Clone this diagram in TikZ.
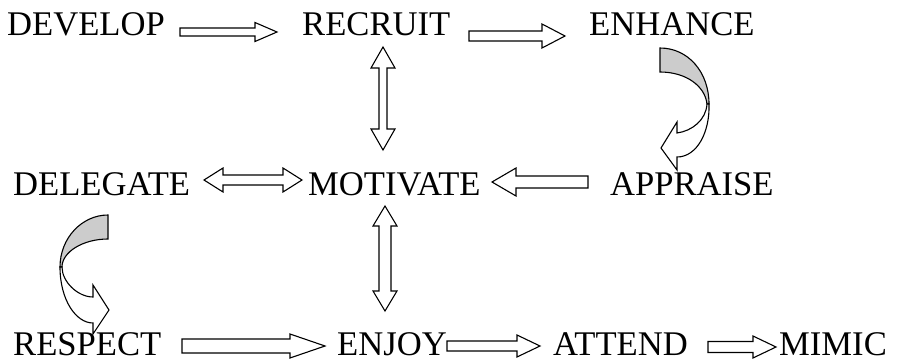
\documentclass[tikz,border=0pt]{standalone}
\usepackage{fontspec}
\setmainfont{Liberation Serif}
\tikzset{
  lbl/.style={anchor=base west, inner sep=0pt, font=\fontsize{34.6}{40}\selectfont},
  blk/.style={draw=black, fill=white, line width=1.1pt, line join=miter},
  backband/.style={draw=black, fill=gray!40, line width=1.1pt},
}
% right-pointing block arrow: x1 x2(tip) yc shafthalf headhalf headlen
\newcommand\barR[6]{\draw[blk] (#1,{#3-#4}) -- ({#2-#6},{#3-#4}) -- ({#2-#6},{#3-#5}) -- (#2,#3) -- ({#2-#6},{#3+#5}) -- ({#2-#6},{#3+#4}) -- (#1,{#3+#4}) -- cycle;}
% left-pointing block arrow: x1(tip) x2 yc shafthalf headhalf headlen
\newcommand\barL[6]{\draw[blk] (#1,#3) -- ({#1+#6},{#3-#5}) -- ({#1+#6},{#3-#4}) -- (#2,{#3-#4}) -- (#2,{#3+#4}) -- ({#1+#6},{#3+#4}) -- ({#1+#6},{#3+#5}) -- cycle;}
% double horizontal
\newcommand\barLR[6]{\draw[blk] (#1,#3) -- ({#1+#6},{#3-#5}) -- ({#1+#6},{#3-#4}) -- ({#2-#6},{#3-#4}) -- ({#2-#6},{#3-#5}) -- (#2,#3) -- ({#2-#6},{#3+#5}) -- ({#2-#6},{#3+#4}) -- ({#1+#6},{#3+#4}) -- ({#1+#6},{#3+#5}) -- cycle;}
% double vertical: xc y1 y2 shafthalf headhalf headlen
\newcommand\barUD[6]{\draw[blk] (#1,#2) -- ({#1+#5},{#2+#6}) -- ({#1+#4},{#2+#6}) -- ({#1+#4},{#3-#6}) -- ({#1+#5},{#3-#6}) -- (#1,#3) -- ({#1-#5},{#3-#6}) -- ({#1-#4},{#3-#6}) -- ({#1-#4},{#2+#6}) -- ({#1-#5},{#2+#6}) -- cycle;}
\begin{document}
\begin{tikzpicture}[x=1pt,y=-1pt]
\useasboundingbox (0,0) rectangle (897,361);
% labels
\node[lbl] (develop)  at (7,36)   {DEVELOP};
\node[lbl] (recruit)  at (302,36) {RECRUIT};
\node[lbl] (enhance)  at (589,36) {ENHANCE};
\node[lbl] (delegate) at (13,195) {DELEGATE};
\node[lbl] (motivate) at (308,195) {MOTIVATE};
\node[lbl] (appraise) at (610,195) {APPRAISE};
\node[lbl] (respect)  at (13,355) {RESPECT};
\node[lbl] (enjoy)    at (337,355) {ENJOY};
\node[lbl] (attend)   at (553,355) {ATTEND};
\node[lbl] (mimic)    at (779,355) {MIMIC};
% straight block arrows
\barR{180}{277}{32}{4}{9.5}{22}
\barR{469}{565}{36}{5}{12}{23}
\barUD{383}{47}{150}{4}{12}{21}
\barLR{204}{302}{180}{5}{12}{19}
\barL{492}{588}{182}{6}{14}{24}
\barUD{385}{206}{311}{6}{12}{20}
\barR{182}{325}{346}{7}{12}{35}
\barR{447}{540}{346}{5}{11}{23}
\barR{708}{776}{347}{5.5}{11}{23}
% curved arrow ENHANCE -> APPRAISE
\draw[backband] (660,48) .. controls (688,48) and (709,72) .. (709,104) -- (707,104) .. controls (705,86) and (686,72) .. (660,72) -- cycle;
\draw[blk] (709,104) .. controls (710,132) and (697,157) .. (677,157) -- (677,170) -- (661,148) -- (677,122) -- (677,133) .. controls (692,131) and (706,120) .. (707,104) -- cycle;
% curved arrow DELEGATE -> RESPECT
\draw[backband] (108,215) .. controls (82,215) and (60,238) .. (60,267) -- (62,267) .. controls (62,252) and (83,239) .. (108,239) -- cycle;
\draw[blk] (60,267) .. controls (60,300) and (76,323) .. (93,323) -- (93,334) -- (109,310) -- (93,285) -- (93,297) .. controls (78,297) and (62,282) .. (62,267) -- cycle;
\end{tikzpicture}
\end{document}
